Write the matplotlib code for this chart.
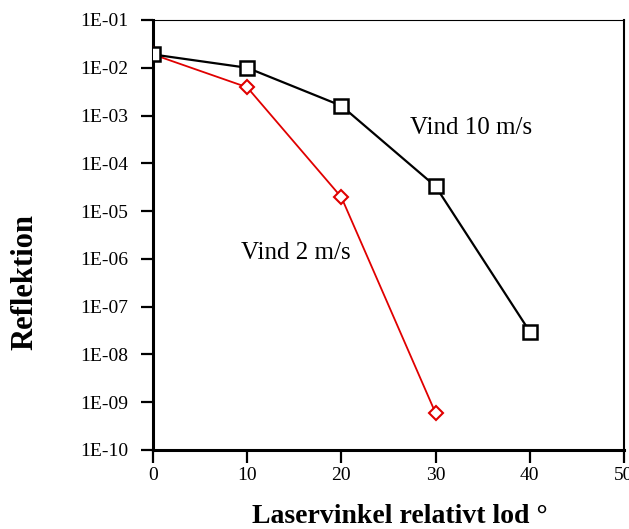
import math
import matplotlib.pyplot as plt
from matplotlib.ticker import FixedLocator, FuncFormatter

plt.rcParams['font.family'] = ['Liberation Serif', 'DejaVu Serif']

# data
vinkel_10 = [0, 10, 20, 30, 40]
refl_10 = [1.9e-2, 1.0e-2, 1.6e-3, 3.3e-5, 3.0e-8]

vinkel_2 = [0, 10, 20, 30]
refl_2 = [1.9e-2, 3.9e-3, 1.95e-5, 5.9e-10]

y_ticks = [10.0 ** -k for k in range(1, 11)]
x_ticks = [0, 10, 20, 30, 40, 50]

fig = plt.figure(figsize=(6.29, 5.29), dpi=100)
ax = fig.add_axes([153 / 629, 79 / 529, 471 / 629, 430 / 529])

ax.plot(vinkel_2, refl_2, color='#e00000', lw=1.3, marker='D', ms=7,
        mfc='white', mec='#e00000', mew=1.5, zorder=3)
ax.plot(vinkel_10, refl_10, color='black', lw=1.6, marker='s', ms=10,
        mfc='white', mec='black', mew=1.8, zorder=4)

ax.set_yscale('log')
ax.set_ylim(1e-10, 1e-1)
ax.set_xlim(0, 50)
ax.yaxis.set_major_locator(FixedLocator(y_ticks))
ax.yaxis.set_minor_locator(FixedLocator([]))
ax.yaxis.set_major_formatter(FuncFormatter(lambda v, p: '1E-%02d' % round(-math.log10(v))))
ax.set_xticks(x_ticks)

ax.tick_params(axis='both', which='major', direction='out', length=9, width=1.6,
               labelsize=14, top=False, right=False)
ax.tick_params(axis='y', pad=9)
ax.tick_params(axis='x', pad=3)

ax.spines['left'].set_linewidth(2.2)
ax.spines['bottom'].set_linewidth(2.2)
ax.spines['top'].set_linewidth(0.8)
ax.spines['right'].set_linewidth(1.5)

ax.text(27.3, 5.5e-4, 'Vind 10 m/s', fontsize=18, ha='left', va='center')
ax.text(9.3, 1.3e-6, 'Vind 2 m/s', fontsize=18, ha='left', va='center')

ax.set_xlabel('Laservinkel relativt lod °', fontsize=20, fontweight='bold')
ax.set_ylabel('Reflektion', fontsize=22, fontweight='bold')
ax.xaxis.set_label_coords(0.524, -0.125)
ax.yaxis.set_label_coords(-0.242, 0.39)

fig.savefig('out.png', dpi=100)
